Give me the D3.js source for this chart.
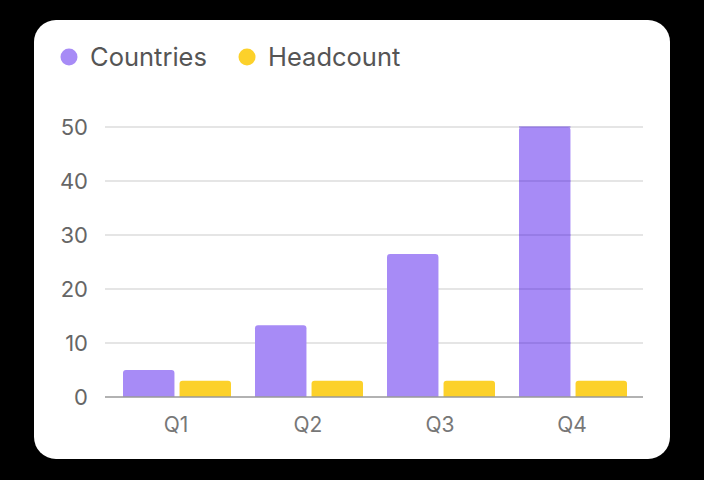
<!DOCTYPE html>
<html>
<head>
<meta charset="utf-8">
<script src="https://cdn.jsdelivr.net/npm/d3@7"></script>
<style>
  html, body { margin: 0; padding: 0; background: #000; }
  svg { display: block; font-family: Inter, "Noto Sans", sans-serif; }
</style>
</head>
<body>
<svg id="chart" width="704" height="480"></svg>
<script>
// chart data
const quarters = ["Q1", "Q2", "Q3", "Q4"];
const seriesNames = ["Countries", "Headcount"];
const countries = [5, 13.3, 26.5, 50];
const headcount = [3, 3, 3, 3];
const yTicks = [0, 10, 20, 30, 40, 50];

const colors = {Countries: "#a78bf6", Headcount: "#fcd12a"};
const highlighted = "Q4"; // grid shows through this bar in the original

const svg = d3.select("#chart");
const margin = {left: 105, right: 643, top: 127, bottom: 397};

// white card
svg.append("rect")
    .attr("x", 34).attr("y", 20)
    .attr("width", 636).attr("height", 439)
    .attr("rx", 22)
    .attr("fill", "#fff");

const x0 = d3.scaleBand().domain(quarters).range([111, 639])
    .paddingInner(24 / 132).paddingOuter(12 / 132);
const x1 = d3.scaleBand().domain(seriesNames).range([0, x0.bandwidth()]).paddingInner(0.09);
const y = d3.scaleLinear().domain([0, 50]).range([margin.bottom, margin.top]);

// grid
svg.append("g").selectAll("line")
    .data(yTicks.filter(t => t > 0))
    .join("line")
    .attr("x1", margin.left).attr("x2", margin.right)
    .attr("y1", d => y(d)).attr("y2", d => y(d))
    .attr("stroke", "#dcdcdc")
    .attr("stroke-width", 1.5);

// y labels
svg.append("g").selectAll("text")
    .data(yTicks)
    .join("text")
    .attr("x", 88)
    .attr("y", d => y(d))
    .attr("dy", "0.36em")
    .attr("text-anchor", "end")
    .attr("font-size", 22)
    .attr("fill", "#666")
    .text(d => d);

// bars with rounded tops
const rows = quarters.map((q, i) => ({q, values: [
    {key: "Countries", value: countries[i]},
    {key: "Headcount", value: headcount[i]}
]}));

function topRounded(x, yTop, w, h, r) {
    r = Math.min(r, h, w / 2);
    return `M${x},${yTop + h}V${yTop + r}Q${x},${yTop} ${x + r},${yTop}` +
        `H${x + w - r}Q${x + w},${yTop} ${x + w},${yTop + r}V${yTop + h}Z`;
}

svg.append("g").selectAll("g")
    .data(rows)
    .join("g")
    .attr("transform", d => `translate(${x0(d.q)},0)`)
    .each(function (row) {
        d3.select(this).selectAll("path")
            .data(row.values)
            .join("path")
            .attr("d", d => topRounded(x1(d.key), y(d.value), x1.bandwidth(), y(0) - y(d.value), 3))
            .attr("fill", d => colors[d.key]);
    });

// grid lines showing through the highlighted bar
svg.append("g").selectAll("line")
    .data(yTicks.filter(t => t > 0 && t <= countries[quarters.indexOf(highlighted)]))
    .join("line")
    .attr("x1", x0(highlighted) + x1("Countries"))
    .attr("x2", x0(highlighted) + x1("Countries") + x1.bandwidth())
    .attr("y1", d => y(d)).attr("y2", d => y(d))
    .attr("stroke", "#8c74dc")
    .attr("stroke-opacity", 0.8)
    .attr("stroke-width", 1.5);

// baseline
svg.append("line")
    .attr("x1", margin.left).attr("x2", margin.right)
    .attr("y1", y(0)).attr("y2", y(0))
    .attr("stroke", "#999")
    .attr("stroke-width", 1.5);

// x labels
svg.append("g").selectAll("text")
    .data(quarters)
    .join("text")
    .attr("x", d => x0(d) + x0.bandwidth() / 2 - 1)
    .attr("y", 432)
    .attr("text-anchor", "middle")
    .attr("font-size", 21)
    .attr("fill", "#777")
    .text(d => d);

// legend
const legendX = [69, 247];
const legend = svg.append("g").selectAll("g")
    .data(seriesNames)
    .join("g")
    .attr("transform", (d, i) => `translate(${legendX[i]},57)`);
legend.append("circle").attr("r", 8.5).attr("fill", d => colors[d]);
legend.append("text")
    .attr("x", 21)
    .attr("dy", "0.36em")
    .attr("font-size", 25.5)
    .attr("fill", "#555")
    .text(d => d);
</script>
</body>
</html>
